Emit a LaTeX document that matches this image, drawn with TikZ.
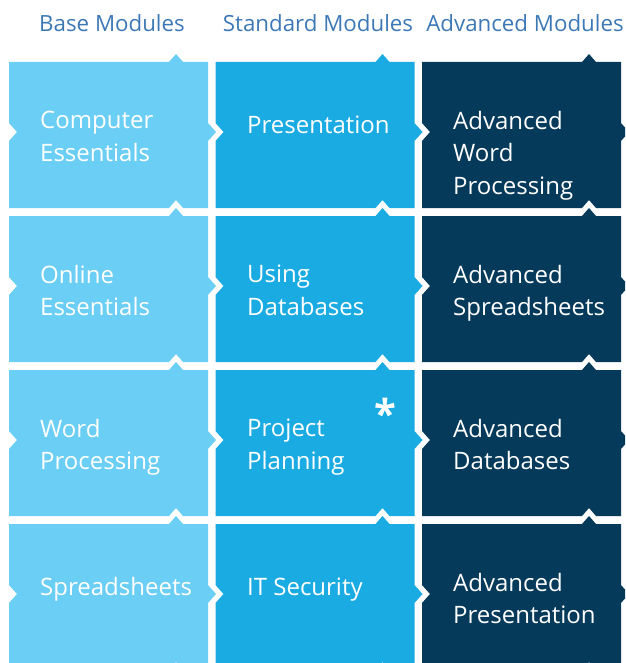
\documentclass[tikz,border=0pt]{standalone}
\usepackage{fontspec}
\setmainfont{Open Sans}
\usepackage{tikz}

\definecolor{baseblue}{HTML}{6BCEF4}
\definecolor{stdblue}{HTML}{1BABE3}
\definecolor{advblue}{HTML}{053A5B}
\definecolor{headblue}{HTML}{3D78B6}

% one puzzle tile: left/top corner, colour
\newcommand{\tile}[3]{%
  \fill[#3] (#1,#2) -- ++(160,0) -- ++(7,-8) -- ++(7,8) -- ++(25,0)
    -- ++(0,61) -- ++(8,9) -- ++(-8,9) -- ++(0,67)
    -- ++(-25,0) -- ++(-7,-8) -- ++(-7,8) -- ++(-160,0)
    -- ++(0,-67) -- ++(8,-9) -- ++(-8,-9) -- cycle;}

\begin{document}
\begin{tikzpicture}[x=1pt,y=-1pt,
    head/.style={text=headblue,font=\fontsize{22.3}{24}\selectfont,anchor=base},
    module/.style={text=white,font=\fontsize{24}{32.5}\selectfont,
      anchor=north west,align=left,inner sep=0pt,
      execute at begin node={\rule{0pt}{22pt}}}]
    \useasboundingbox (0,0) rectangle (625,663);
    \clip (0,0) rectangle (625,663);

    \node[head] (base) at (112,32) {Base Modules};
    \node[head] (std)  at (318,32) {Standard Modules};
    \node[head] (adv)  at (525,32) {Advanced Modules};

    \tile{9}{62}{baseblue}
    \tile{9}{216}{baseblue}
    \tile{9}{370}{baseblue}
    \tile{9}{524}{baseblue}
    \tile{215.5}{62}{stdblue}
    \tile{215.5}{216}{stdblue}
    \tile{215.5}{370}{stdblue}
    \tile{215.5}{524}{stdblue}
    \tile{422}{62}{advblue}
    \tile{422}{216}{advblue}
    \tile{422}{370}{advblue}
    \tile{422}{524}{advblue}

    % first baseline sits 71 below the tile top
    \node[module] (ce) at (40,111)  {Computer\\Essentials};
    \node[module] (oe) at (40,265)  {Online\\Essentials};
    \node[module] (wp) at (40,419)  {Word\\Processing};
    \node[module] (ss) at (40,573)  {Spreadsheets};
    \node[module] (pr) at (247,111) {Presentation};
    \node[module] (db) at (247,265) {Using\\Databases};
    \node[module] (pp) at (247,419) {Project\\Planning};
    \node[module] (it) at (247,573) {IT Security};
    \node[module] (aw) at (453,111) {Advanced\\Word\\Processing};
    \node[module] (as) at (453,265) {Advanced\\Spreadsheets};
    \node[module] (ad) at (453,419) {Advanced\\Databases};
    \node[module] (ap) at (453,573) {Advanced\\Presentation};
    \node[text=white,font=\fontsize{40}{40}\selectfont\bfseries,anchor=base] (star) at (385,428) {*};
  \end{tikzpicture}
\end{document}
